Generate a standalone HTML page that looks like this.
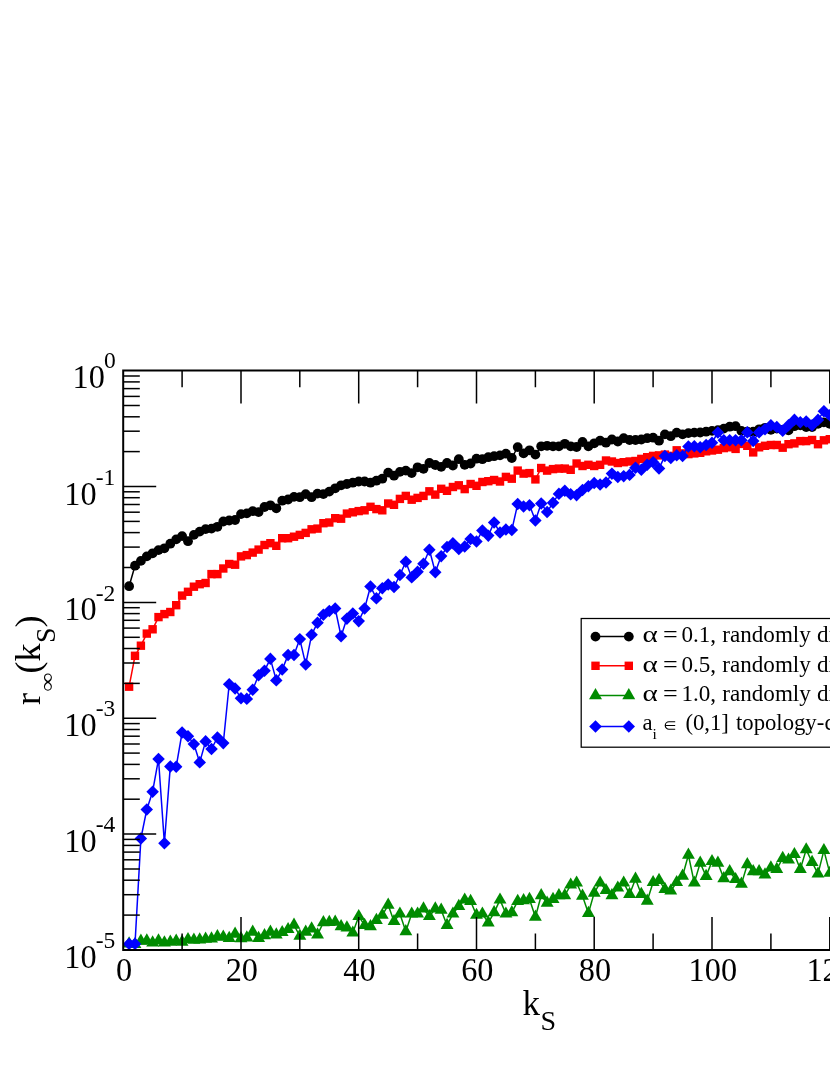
<!DOCTYPE html>
<html><head><meta charset="utf-8"><title>chart</title>
<style>html,body{margin:0;padding:0;background:#fff}body{width:830px;height:1075px;overflow:hidden;font-family:"Liberation Serif",serif}svg{display:block;will-change:transform}</style>
</head><body>
<svg width="830" height="1075" viewBox="0 0 830 1075">
<rect width="830" height="1075" fill="#fff"/>
<polyline points="129.1,586.2 135.0,565.7 140.9,560.9 146.8,556.4 152.6,553.3 158.5,550.1 164.4,548.3 170.3,543.7 176.2,539.4 182.1,536.1 188.0,541.2 193.9,534.9 199.7,531.6 205.6,529.1 211.5,528.6 217.4,526.8 223.3,521.5 229.2,520.5 235.1,520.0 241.0,514.1 246.8,513.4 252.7,511.1 258.6,512.1 264.5,507.0 270.4,505.3 276.3,508.3 282.2,500.7 288.1,499.5 294.0,496.9 299.8,497.2 305.7,494.1 311.6,497.2 317.5,493.6 323.4,494.1 329.3,491.6 335.2,488.3 341.1,485.3 346.9,484.0 352.8,482.7 358.7,481.5 364.6,481.5 370.5,482.7 376.4,480.7 382.3,478.7 388.2,472.6 394.0,475.7 399.9,471.9 405.8,470.6 411.7,473.1 417.6,467.3 423.5,468.8 429.4,463.0 435.3,465.0 441.2,466.8 447.0,463.0 452.9,465.5 458.8,459.2 464.7,464.8 470.6,463.5 476.5,458.7 482.4,459.2 488.3,457.2 494.1,456.2 500.0,455.4 505.9,453.7 511.8,458.0 517.7,447.1 523.6,453.4 529.5,450.3 535.4,454.6 541.2,446.3 547.1,445.8 553.0,446.3 558.9,446.3 564.8,443.8 570.7,446.3 576.6,447.0 582.5,442.0 588.4,446.3 594.2,443.3 600.1,440.7 606.0,442.7 611.9,439.5 617.8,441.5 623.7,438.2 629.6,440.0 635.5,440.0 641.3,439.5 647.2,438.2 653.1,437.7 659.0,440.7 664.9,434.4 670.8,436.2 676.7,432.6 682.6,434.4 688.4,433.1 694.3,432.6 700.2,432.5 706.1,431.7 712.0,430.9 717.9,430.1 723.8,428.6 729.7,426.7 735.6,426.2 741.4,430.9 747.3,431.7 753.2,431.7 759.1,429.3 765.0,427.8 770.9,429.8 776.8,428.6 782.7,429.8 788.5,430.4 794.4,426.2 800.3,425.4 806.2,427.0 812.1,427.0 818.0,423.9 823.9,422.3 829.8,423.9" fill="none" stroke="#000" stroke-width="1.50" stroke-linejoin="round"/>
<g fill="#000">
<circle cx="129.1" cy="586.2" r="4.90"/>
<circle cx="135.0" cy="565.7" r="4.90"/>
<circle cx="140.9" cy="560.9" r="4.90"/>
<circle cx="146.8" cy="556.4" r="4.90"/>
<circle cx="152.6" cy="553.3" r="4.90"/>
<circle cx="158.5" cy="550.1" r="4.90"/>
<circle cx="164.4" cy="548.3" r="4.90"/>
<circle cx="170.3" cy="543.7" r="4.90"/>
<circle cx="176.2" cy="539.4" r="4.90"/>
<circle cx="182.1" cy="536.1" r="4.90"/>
<circle cx="188.0" cy="541.2" r="4.90"/>
<circle cx="193.9" cy="534.9" r="4.90"/>
<circle cx="199.7" cy="531.6" r="4.90"/>
<circle cx="205.6" cy="529.1" r="4.90"/>
<circle cx="211.5" cy="528.6" r="4.90"/>
<circle cx="217.4" cy="526.8" r="4.90"/>
<circle cx="223.3" cy="521.5" r="4.90"/>
<circle cx="229.2" cy="520.5" r="4.90"/>
<circle cx="235.1" cy="520.0" r="4.90"/>
<circle cx="241.0" cy="514.1" r="4.90"/>
<circle cx="246.8" cy="513.4" r="4.90"/>
<circle cx="252.7" cy="511.1" r="4.90"/>
<circle cx="258.6" cy="512.1" r="4.90"/>
<circle cx="264.5" cy="507.0" r="4.90"/>
<circle cx="270.4" cy="505.3" r="4.90"/>
<circle cx="276.3" cy="508.3" r="4.90"/>
<circle cx="282.2" cy="500.7" r="4.90"/>
<circle cx="288.1" cy="499.5" r="4.90"/>
<circle cx="294.0" cy="496.9" r="4.90"/>
<circle cx="299.8" cy="497.2" r="4.90"/>
<circle cx="305.7" cy="494.1" r="4.90"/>
<circle cx="311.6" cy="497.2" r="4.90"/>
<circle cx="317.5" cy="493.6" r="4.90"/>
<circle cx="323.4" cy="494.1" r="4.90"/>
<circle cx="329.3" cy="491.6" r="4.90"/>
<circle cx="335.2" cy="488.3" r="4.90"/>
<circle cx="341.1" cy="485.3" r="4.90"/>
<circle cx="346.9" cy="484.0" r="4.90"/>
<circle cx="352.8" cy="482.7" r="4.90"/>
<circle cx="358.7" cy="481.5" r="4.90"/>
<circle cx="364.6" cy="481.5" r="4.90"/>
<circle cx="370.5" cy="482.7" r="4.90"/>
<circle cx="376.4" cy="480.7" r="4.90"/>
<circle cx="382.3" cy="478.7" r="4.90"/>
<circle cx="388.2" cy="472.6" r="4.90"/>
<circle cx="394.0" cy="475.7" r="4.90"/>
<circle cx="399.9" cy="471.9" r="4.90"/>
<circle cx="405.8" cy="470.6" r="4.90"/>
<circle cx="411.7" cy="473.1" r="4.90"/>
<circle cx="417.6" cy="467.3" r="4.90"/>
<circle cx="423.5" cy="468.8" r="4.90"/>
<circle cx="429.4" cy="463.0" r="4.90"/>
<circle cx="435.3" cy="465.0" r="4.90"/>
<circle cx="441.2" cy="466.8" r="4.90"/>
<circle cx="447.0" cy="463.0" r="4.90"/>
<circle cx="452.9" cy="465.5" r="4.90"/>
<circle cx="458.8" cy="459.2" r="4.90"/>
<circle cx="464.7" cy="464.8" r="4.90"/>
<circle cx="470.6" cy="463.5" r="4.90"/>
<circle cx="476.5" cy="458.7" r="4.90"/>
<circle cx="482.4" cy="459.2" r="4.90"/>
<circle cx="488.3" cy="457.2" r="4.90"/>
<circle cx="494.1" cy="456.2" r="4.90"/>
<circle cx="500.0" cy="455.4" r="4.90"/>
<circle cx="505.9" cy="453.7" r="4.90"/>
<circle cx="511.8" cy="458.0" r="4.90"/>
<circle cx="517.7" cy="447.1" r="4.90"/>
<circle cx="523.6" cy="453.4" r="4.90"/>
<circle cx="529.5" cy="450.3" r="4.90"/>
<circle cx="535.4" cy="454.6" r="4.90"/>
<circle cx="541.2" cy="446.3" r="4.90"/>
<circle cx="547.1" cy="445.8" r="4.90"/>
<circle cx="553.0" cy="446.3" r="4.90"/>
<circle cx="558.9" cy="446.3" r="4.90"/>
<circle cx="564.8" cy="443.8" r="4.90"/>
<circle cx="570.7" cy="446.3" r="4.90"/>
<circle cx="576.6" cy="447.0" r="4.90"/>
<circle cx="582.5" cy="442.0" r="4.90"/>
<circle cx="588.4" cy="446.3" r="4.90"/>
<circle cx="594.2" cy="443.3" r="4.90"/>
<circle cx="600.1" cy="440.7" r="4.90"/>
<circle cx="606.0" cy="442.7" r="4.90"/>
<circle cx="611.9" cy="439.5" r="4.90"/>
<circle cx="617.8" cy="441.5" r="4.90"/>
<circle cx="623.7" cy="438.2" r="4.90"/>
<circle cx="629.6" cy="440.0" r="4.90"/>
<circle cx="635.5" cy="440.0" r="4.90"/>
<circle cx="641.3" cy="439.5" r="4.90"/>
<circle cx="647.2" cy="438.2" r="4.90"/>
<circle cx="653.1" cy="437.7" r="4.90"/>
<circle cx="659.0" cy="440.7" r="4.90"/>
<circle cx="664.9" cy="434.4" r="4.90"/>
<circle cx="670.8" cy="436.2" r="4.90"/>
<circle cx="676.7" cy="432.6" r="4.90"/>
<circle cx="682.6" cy="434.4" r="4.90"/>
<circle cx="688.4" cy="433.1" r="4.90"/>
<circle cx="694.3" cy="432.6" r="4.90"/>
<circle cx="700.2" cy="432.5" r="4.90"/>
<circle cx="706.1" cy="431.7" r="4.90"/>
<circle cx="712.0" cy="430.9" r="4.90"/>
<circle cx="717.9" cy="430.1" r="4.90"/>
<circle cx="723.8" cy="428.6" r="4.90"/>
<circle cx="729.7" cy="426.7" r="4.90"/>
<circle cx="735.6" cy="426.2" r="4.90"/>
<circle cx="741.4" cy="430.9" r="4.90"/>
<circle cx="747.3" cy="431.7" r="4.90"/>
<circle cx="753.2" cy="431.7" r="4.90"/>
<circle cx="759.1" cy="429.3" r="4.90"/>
<circle cx="765.0" cy="427.8" r="4.90"/>
<circle cx="770.9" cy="429.8" r="4.90"/>
<circle cx="776.8" cy="428.6" r="4.90"/>
<circle cx="782.7" cy="429.8" r="4.90"/>
<circle cx="788.5" cy="430.4" r="4.90"/>
<circle cx="794.4" cy="426.2" r="4.90"/>
<circle cx="800.3" cy="425.4" r="4.90"/>
<circle cx="806.2" cy="427.0" r="4.90"/>
<circle cx="812.1" cy="427.0" r="4.90"/>
<circle cx="818.0" cy="423.9" r="4.90"/>
<circle cx="823.9" cy="422.3" r="4.90"/>
<circle cx="829.8" cy="423.9" r="4.90"/>
</g>
<polyline points="129.1,686.7 135.0,655.8 140.9,645.7 146.8,633.6 152.6,629.3 158.5,617.1 164.4,614.1 170.3,612.0 176.2,605.2 182.1,595.6 188.0,591.8 193.9,586.7 199.7,584.2 205.6,583.0 211.5,574.1 217.4,574.1 223.3,568.5 229.2,564.0 235.1,564.7 241.0,556.4 246.8,555.1 252.7,552.6 258.6,549.6 264.5,545.0 270.4,543.2 276.3,545.8 282.2,538.2 288.1,538.2 294.0,536.7 299.8,534.9 305.7,532.9 311.6,529.3 317.5,528.6 323.4,523.2 329.3,522.5 335.2,518.2 341.1,518.7 346.9,513.6 352.8,512.3 358.7,511.1 364.6,510.3 370.5,506.8 376.4,509.1 382.3,510.3 388.2,503.5 394.0,504.8 399.9,498.9 405.8,495.9 411.7,499.7 417.6,497.9 423.5,495.9 429.4,491.3 435.3,494.6 441.2,488.8 447.0,490.8 452.9,487.0 458.8,485.3 464.7,489.1 470.6,484.0 476.5,485.8 482.4,482.0 488.3,481.2 494.1,480.0 500.0,481.5 505.9,476.9 511.8,478.7 517.7,470.6 523.6,473.6 529.5,473.1 535.4,479.4 541.2,468.0 547.1,470.6 553.0,469.1 558.9,468.6 564.8,468.6 570.7,469.8 576.6,463.5 582.5,466.0 588.4,464.8 594.2,466.0 600.1,464.8 606.0,460.5 611.9,461.5 617.8,463.0 623.7,462.2 629.6,461.5 635.5,461.0 641.3,458.9 647.2,457.2 653.1,455.9 659.0,455.4 664.9,454.6 670.8,455.9 676.7,450.3 682.6,453.4 688.4,454.1 694.3,453.4 700.2,452.8 706.1,451.3 712.0,450.5 717.9,449.7 723.8,448.1 729.7,447.3 735.6,448.9 741.4,443.9 747.3,445.8 753.2,452.4 759.1,447.3 765.0,445.8 770.9,445.0 776.8,445.0 782.7,447.7 788.5,444.2 794.4,443.4 800.3,441.1 806.2,441.1 812.1,440.0 818.0,444.2 823.9,440.3 829.8,439.2" fill="none" stroke="#f00" stroke-width="1.50" stroke-linejoin="round"/>
<g fill="#f00">
<rect x="124.9" y="682.5" width="8.4" height="8.4"/>
<rect x="130.8" y="651.6" width="8.4" height="8.4"/>
<rect x="136.7" y="641.5" width="8.4" height="8.4"/>
<rect x="142.6" y="629.4" width="8.4" height="8.4"/>
<rect x="148.4" y="625.1" width="8.4" height="8.4"/>
<rect x="154.3" y="612.9" width="8.4" height="8.4"/>
<rect x="160.2" y="609.9" width="8.4" height="8.4"/>
<rect x="166.1" y="607.8" width="8.4" height="8.4"/>
<rect x="172.0" y="601.0" width="8.4" height="8.4"/>
<rect x="177.9" y="591.4" width="8.4" height="8.4"/>
<rect x="183.8" y="587.6" width="8.4" height="8.4"/>
<rect x="189.7" y="582.5" width="8.4" height="8.4"/>
<rect x="195.5" y="580.0" width="8.4" height="8.4"/>
<rect x="201.4" y="578.8" width="8.4" height="8.4"/>
<rect x="207.3" y="569.9" width="8.4" height="8.4"/>
<rect x="213.2" y="569.9" width="8.4" height="8.4"/>
<rect x="219.1" y="564.3" width="8.4" height="8.4"/>
<rect x="225.0" y="559.8" width="8.4" height="8.4"/>
<rect x="230.9" y="560.5" width="8.4" height="8.4"/>
<rect x="236.8" y="552.2" width="8.4" height="8.4"/>
<rect x="242.6" y="550.9" width="8.4" height="8.4"/>
<rect x="248.5" y="548.4" width="8.4" height="8.4"/>
<rect x="254.4" y="545.4" width="8.4" height="8.4"/>
<rect x="260.3" y="540.8" width="8.4" height="8.4"/>
<rect x="266.2" y="539.0" width="8.4" height="8.4"/>
<rect x="272.1" y="541.6" width="8.4" height="8.4"/>
<rect x="278.0" y="534.0" width="8.4" height="8.4"/>
<rect x="283.9" y="534.0" width="8.4" height="8.4"/>
<rect x="289.8" y="532.5" width="8.4" height="8.4"/>
<rect x="295.6" y="530.7" width="8.4" height="8.4"/>
<rect x="301.5" y="528.7" width="8.4" height="8.4"/>
<rect x="307.4" y="525.1" width="8.4" height="8.4"/>
<rect x="313.3" y="524.4" width="8.4" height="8.4"/>
<rect x="319.2" y="519.0" width="8.4" height="8.4"/>
<rect x="325.1" y="518.3" width="8.4" height="8.4"/>
<rect x="331.0" y="514.0" width="8.4" height="8.4"/>
<rect x="336.9" y="514.5" width="8.4" height="8.4"/>
<rect x="342.7" y="509.4" width="8.4" height="8.4"/>
<rect x="348.6" y="508.1" width="8.4" height="8.4"/>
<rect x="354.5" y="506.9" width="8.4" height="8.4"/>
<rect x="360.4" y="506.1" width="8.4" height="8.4"/>
<rect x="366.3" y="502.6" width="8.4" height="8.4"/>
<rect x="372.2" y="504.9" width="8.4" height="8.4"/>
<rect x="378.1" y="506.1" width="8.4" height="8.4"/>
<rect x="384.0" y="499.3" width="8.4" height="8.4"/>
<rect x="389.8" y="500.6" width="8.4" height="8.4"/>
<rect x="395.7" y="494.7" width="8.4" height="8.4"/>
<rect x="401.6" y="491.7" width="8.4" height="8.4"/>
<rect x="407.5" y="495.5" width="8.4" height="8.4"/>
<rect x="413.4" y="493.7" width="8.4" height="8.4"/>
<rect x="419.3" y="491.7" width="8.4" height="8.4"/>
<rect x="425.2" y="487.1" width="8.4" height="8.4"/>
<rect x="431.1" y="490.4" width="8.4" height="8.4"/>
<rect x="437.0" y="484.6" width="8.4" height="8.4"/>
<rect x="442.8" y="486.6" width="8.4" height="8.4"/>
<rect x="448.7" y="482.8" width="8.4" height="8.4"/>
<rect x="454.6" y="481.1" width="8.4" height="8.4"/>
<rect x="460.5" y="484.9" width="8.4" height="8.4"/>
<rect x="466.4" y="479.8" width="8.4" height="8.4"/>
<rect x="472.3" y="481.6" width="8.4" height="8.4"/>
<rect x="478.2" y="477.8" width="8.4" height="8.4"/>
<rect x="484.1" y="477.0" width="8.4" height="8.4"/>
<rect x="489.9" y="475.8" width="8.4" height="8.4"/>
<rect x="495.8" y="477.3" width="8.4" height="8.4"/>
<rect x="501.7" y="472.7" width="8.4" height="8.4"/>
<rect x="507.6" y="474.5" width="8.4" height="8.4"/>
<rect x="513.5" y="466.4" width="8.4" height="8.4"/>
<rect x="519.4" y="469.4" width="8.4" height="8.4"/>
<rect x="525.3" y="468.9" width="8.4" height="8.4"/>
<rect x="531.2" y="475.2" width="8.4" height="8.4"/>
<rect x="537.0" y="463.8" width="8.4" height="8.4"/>
<rect x="542.9" y="466.4" width="8.4" height="8.4"/>
<rect x="548.8" y="464.9" width="8.4" height="8.4"/>
<rect x="554.7" y="464.4" width="8.4" height="8.4"/>
<rect x="560.6" y="464.4" width="8.4" height="8.4"/>
<rect x="566.5" y="465.6" width="8.4" height="8.4"/>
<rect x="572.4" y="459.3" width="8.4" height="8.4"/>
<rect x="578.3" y="461.8" width="8.4" height="8.4"/>
<rect x="584.2" y="460.6" width="8.4" height="8.4"/>
<rect x="590.0" y="461.8" width="8.4" height="8.4"/>
<rect x="595.9" y="460.6" width="8.4" height="8.4"/>
<rect x="601.8" y="456.3" width="8.4" height="8.4"/>
<rect x="607.7" y="457.3" width="8.4" height="8.4"/>
<rect x="613.6" y="458.8" width="8.4" height="8.4"/>
<rect x="619.5" y="458.0" width="8.4" height="8.4"/>
<rect x="625.4" y="457.3" width="8.4" height="8.4"/>
<rect x="631.3" y="456.8" width="8.4" height="8.4"/>
<rect x="637.1" y="454.7" width="8.4" height="8.4"/>
<rect x="643.0" y="453.0" width="8.4" height="8.4"/>
<rect x="648.9" y="451.7" width="8.4" height="8.4"/>
<rect x="654.8" y="451.2" width="8.4" height="8.4"/>
<rect x="660.7" y="450.4" width="8.4" height="8.4"/>
<rect x="666.6" y="451.7" width="8.4" height="8.4"/>
<rect x="672.5" y="446.1" width="8.4" height="8.4"/>
<rect x="678.4" y="449.2" width="8.4" height="8.4"/>
<rect x="684.2" y="449.9" width="8.4" height="8.4"/>
<rect x="690.1" y="449.2" width="8.4" height="8.4"/>
<rect x="696.0" y="448.6" width="8.4" height="8.4"/>
<rect x="701.9" y="447.1" width="8.4" height="8.4"/>
<rect x="707.8" y="446.3" width="8.4" height="8.4"/>
<rect x="713.7" y="445.5" width="8.4" height="8.4"/>
<rect x="719.6" y="443.9" width="8.4" height="8.4"/>
<rect x="725.5" y="443.1" width="8.4" height="8.4"/>
<rect x="731.4" y="444.7" width="8.4" height="8.4"/>
<rect x="737.2" y="439.7" width="8.4" height="8.4"/>
<rect x="743.1" y="441.6" width="8.4" height="8.4"/>
<rect x="749.0" y="448.2" width="8.4" height="8.4"/>
<rect x="754.9" y="443.1" width="8.4" height="8.4"/>
<rect x="760.8" y="441.6" width="8.4" height="8.4"/>
<rect x="766.7" y="440.8" width="8.4" height="8.4"/>
<rect x="772.6" y="440.8" width="8.4" height="8.4"/>
<rect x="778.5" y="443.5" width="8.4" height="8.4"/>
<rect x="784.3" y="440.0" width="8.4" height="8.4"/>
<rect x="790.2" y="439.2" width="8.4" height="8.4"/>
<rect x="796.1" y="436.9" width="8.4" height="8.4"/>
<rect x="802.0" y="436.9" width="8.4" height="8.4"/>
<rect x="807.9" y="435.8" width="8.4" height="8.4"/>
<rect x="813.8" y="440.0" width="8.4" height="8.4"/>
<rect x="819.7" y="436.1" width="8.4" height="8.4"/>
<rect x="825.6" y="435.0" width="8.4" height="8.4"/>
</g>
<polyline points="129.1,943.6 135.0,944.4 140.9,941.1 146.8,940.6 152.6,942.6 158.5,940.6 164.4,942.6 170.3,942.0 176.2,941.1 182.1,942.0 188.0,939.4 193.9,940.0 199.7,939.8 205.6,939.0 211.5,938.6 217.4,936.5 223.3,937.1 229.2,938.1 235.1,934.0 241.0,938.6 246.8,937.6 252.7,932.0 258.6,938.1 264.5,935.6 270.4,932.0 276.3,934.6 282.2,932.4 288.1,929.4 294.0,925.1 299.8,936.0 305.7,932.0 311.6,928.6 317.5,934.6 323.4,922.5 329.3,922.2 335.2,922.1 341.1,926.5 346.9,927.8 352.8,932.8 358.7,916.4 364.6,925.2 370.5,926.5 376.4,920.2 382.3,915.1 388.2,905.0 394.0,921.4 399.9,913.8 405.8,931.5 411.7,913.8 417.6,913.8 423.5,908.8 429.4,916.4 435.3,908.8 441.2,910.0 447.0,925.2 452.9,913.8 458.8,906.2 464.7,899.9 470.6,901.2 476.5,915.1 482.4,913.8 488.3,922.7 494.1,912.6 500.0,899.9 505.9,913.8 511.8,912.6 517.7,901.2 523.6,900.5 529.5,899.3 535.4,917.0 541.2,895.5 547.1,903.1 553.0,899.3 558.9,895.5 564.8,895.5 570.7,884.8 576.6,882.8 582.5,896.0 588.4,913.2 594.2,892.9 600.1,882.8 606.0,890.4 611.9,895.5 617.8,887.9 623.7,882.8 629.6,894.2 635.5,879.0 641.3,894.2 647.2,901.0 653.1,882.3 659.0,880.3 664.9,889.1 670.8,890.9 676.7,882.3 682.6,876.0 688.4,855.0 694.3,882.8 700.2,862.9 706.1,876.2 712.0,861.4 717.9,862.9 723.8,878.6 729.7,871.5 735.6,879.4 741.4,884.1 747.3,864.5 753.2,871.5 759.1,871.5 765.0,874.7 770.9,867.6 776.8,869.2 782.7,858.2 788.5,859.8 794.4,854.3 800.3,869.2 806.2,849.6 812.1,862.2 818.0,873.9 823.9,850.4 829.8,873.1" fill="none" stroke="#008b00" stroke-width="1.50" stroke-linejoin="round"/>
<g fill="#008b00">
<path d="M122.6 947.4L129.1 936.2L135.5 947.4Z"/>
<path d="M128.5 948.1L135.0 936.9L141.4 948.1Z"/>
<path d="M134.4 944.8L140.9 933.6L147.3 944.8Z"/>
<path d="M140.3 944.4L146.8 933.2L153.2 944.4Z"/>
<path d="M146.2 946.4L152.6 935.2L159.1 946.4Z"/>
<path d="M152.1 944.4L158.5 933.2L165.0 944.4Z"/>
<path d="M158.0 946.4L164.4 935.2L170.9 946.4Z"/>
<path d="M163.9 945.7L170.3 934.5L176.8 945.7Z"/>
<path d="M169.7 944.8L176.2 933.6L182.6 944.8Z"/>
<path d="M175.6 945.7L182.1 934.5L188.5 945.7Z"/>
<path d="M181.5 943.1L188.0 931.9L194.4 943.1Z"/>
<path d="M187.4 943.7L193.9 932.5L200.3 943.7Z"/>
<path d="M193.3 943.5L199.7 932.3L206.2 943.5Z"/>
<path d="M199.2 942.7L205.6 931.5L212.1 942.7Z"/>
<path d="M205.1 942.4L211.5 931.2L218.0 942.4Z"/>
<path d="M211.0 940.2L217.4 929.0L223.9 940.2Z"/>
<path d="M216.8 940.8L223.3 929.6L229.7 940.8Z"/>
<path d="M222.7 941.9L229.2 930.7L235.6 941.9Z"/>
<path d="M228.6 937.7L235.1 926.5L241.5 937.7Z"/>
<path d="M234.5 942.3L241.0 931.1L247.4 942.3Z"/>
<path d="M240.4 941.4L246.8 930.2L253.3 941.4Z"/>
<path d="M246.3 935.7L252.7 924.5L259.2 935.7Z"/>
<path d="M252.2 941.9L258.6 930.7L265.1 941.9Z"/>
<path d="M258.1 939.3L264.5 928.1L271.0 939.3Z"/>
<path d="M263.9 935.7L270.4 924.5L276.8 935.7Z"/>
<path d="M269.8 938.4L276.3 927.2L282.7 938.4Z"/>
<path d="M275.7 936.1L282.2 924.9L288.6 936.1Z"/>
<path d="M281.6 933.1L288.1 921.9L294.5 933.1Z"/>
<path d="M287.5 928.8L294.0 917.6L300.4 928.8Z"/>
<path d="M293.4 939.7L299.8 928.5L306.3 939.7Z"/>
<path d="M299.3 935.7L305.7 924.5L312.2 935.7Z"/>
<path d="M305.2 932.4L311.6 921.2L318.1 932.4Z"/>
<path d="M311.1 938.4L317.5 927.2L324.0 938.4Z"/>
<path d="M316.9 926.2L323.4 915.0L329.8 926.2Z"/>
<path d="M322.8 926.0L329.3 914.8L335.7 926.0Z"/>
<path d="M328.7 925.8L335.2 914.6L341.6 925.8Z"/>
<path d="M334.6 930.2L341.1 919.0L347.5 930.2Z"/>
<path d="M340.5 931.5L346.9 920.3L353.4 931.5Z"/>
<path d="M346.4 936.5L352.8 925.4L359.3 936.5Z"/>
<path d="M352.3 920.1L358.7 908.9L365.2 920.1Z"/>
<path d="M358.2 928.9L364.6 917.8L371.1 928.9Z"/>
<path d="M364.0 930.2L370.5 919.0L376.9 930.2Z"/>
<path d="M369.9 923.9L376.4 912.7L382.8 923.9Z"/>
<path d="M375.8 918.8L382.3 907.7L388.7 918.8Z"/>
<path d="M381.7 908.7L388.2 897.5L394.6 908.7Z"/>
<path d="M387.6 925.1L394.0 914.0L400.5 925.1Z"/>
<path d="M393.5 917.6L399.9 906.4L406.4 917.6Z"/>
<path d="M399.4 935.3L405.8 924.1L412.3 935.3Z"/>
<path d="M405.3 917.6L411.7 906.4L418.2 917.6Z"/>
<path d="M411.1 917.6L417.6 906.4L424.0 917.6Z"/>
<path d="M417.0 912.5L423.5 901.3L429.9 912.5Z"/>
<path d="M422.9 920.1L429.4 908.9L435.8 920.1Z"/>
<path d="M428.8 912.5L435.3 901.3L441.7 912.5Z"/>
<path d="M434.7 913.8L441.2 902.6L447.6 913.8Z"/>
<path d="M440.6 928.9L447.0 917.8L453.5 928.9Z"/>
<path d="M446.5 917.6L452.9 906.4L459.4 917.6Z"/>
<path d="M452.4 910.0L458.8 898.8L465.3 910.0Z"/>
<path d="M458.3 903.6L464.7 892.5L471.2 903.6Z"/>
<path d="M464.1 904.9L470.6 893.7L477.0 904.9Z"/>
<path d="M470.0 918.8L476.5 907.7L482.9 918.8Z"/>
<path d="M475.9 917.6L482.4 906.4L488.8 917.6Z"/>
<path d="M481.8 926.4L488.3 915.2L494.7 926.4Z"/>
<path d="M487.7 916.3L494.1 905.1L500.6 916.3Z"/>
<path d="M493.6 903.6L500.0 892.5L506.5 903.6Z"/>
<path d="M499.5 917.6L505.9 906.4L512.4 917.6Z"/>
<path d="M505.4 916.3L511.8 905.1L518.3 916.3Z"/>
<path d="M511.2 904.9L517.7 893.7L524.1 904.9Z"/>
<path d="M517.1 904.2L523.6 893.1L530.0 904.2Z"/>
<path d="M523.0 903.0L529.5 891.8L535.9 903.0Z"/>
<path d="M528.9 920.7L535.4 909.5L541.8 920.7Z"/>
<path d="M534.8 899.2L541.2 888.0L547.7 899.2Z"/>
<path d="M540.7 906.8L547.1 895.6L553.6 906.8Z"/>
<path d="M546.6 903.0L553.0 891.8L559.5 903.0Z"/>
<path d="M552.5 899.2L558.9 888.0L565.4 899.2Z"/>
<path d="M558.3 899.2L564.8 888.0L571.2 899.2Z"/>
<path d="M564.2 888.6L570.7 877.4L577.1 888.6Z"/>
<path d="M570.1 886.5L576.6 875.4L583.0 886.5Z"/>
<path d="M576.0 899.7L582.5 888.5L588.9 899.7Z"/>
<path d="M581.9 916.9L588.4 905.7L594.8 916.9Z"/>
<path d="M587.8 896.7L594.2 885.5L600.7 896.7Z"/>
<path d="M593.7 886.5L600.1 875.4L606.6 886.5Z"/>
<path d="M599.6 894.1L606.0 883.0L612.5 894.1Z"/>
<path d="M605.5 899.2L611.9 888.0L618.4 899.2Z"/>
<path d="M611.3 891.6L617.8 880.4L624.2 891.6Z"/>
<path d="M617.2 886.5L623.7 875.4L630.1 886.5Z"/>
<path d="M623.1 897.9L629.6 886.7L636.0 897.9Z"/>
<path d="M629.0 882.7L635.5 871.6L641.9 882.7Z"/>
<path d="M634.9 897.9L641.3 886.7L647.8 897.9Z"/>
<path d="M640.8 904.8L647.2 893.6L653.7 904.8Z"/>
<path d="M646.7 886.0L653.1 874.9L659.6 886.0Z"/>
<path d="M652.6 884.0L659.0 872.8L665.5 884.0Z"/>
<path d="M658.4 892.9L664.9 881.7L671.3 892.9Z"/>
<path d="M664.3 894.6L670.8 883.5L677.2 894.6Z"/>
<path d="M670.2 886.0L676.7 874.9L683.1 886.0Z"/>
<path d="M676.1 879.7L682.6 868.5L689.0 879.7Z"/>
<path d="M682.0 858.7L688.4 847.5L694.9 858.7Z"/>
<path d="M687.9 886.5L694.3 875.4L700.8 886.5Z"/>
<path d="M693.8 866.7L700.2 855.5L706.7 866.7Z"/>
<path d="M699.7 880.0L706.1 868.8L712.6 880.0Z"/>
<path d="M705.5 865.1L712.0 853.9L718.5 865.1Z"/>
<path d="M711.4 866.7L717.9 855.5L724.3 866.7Z"/>
<path d="M717.3 882.3L723.8 871.1L730.2 882.3Z"/>
<path d="M723.2 875.3L729.7 864.1L736.1 875.3Z"/>
<path d="M729.1 883.1L735.6 871.9L742.0 883.1Z"/>
<path d="M735.0 887.8L741.4 876.6L747.9 887.8Z"/>
<path d="M740.9 868.2L747.3 857.1L753.8 868.2Z"/>
<path d="M746.8 875.3L753.2 864.1L759.7 875.3Z"/>
<path d="M752.7 875.3L759.1 864.1L765.6 875.3Z"/>
<path d="M758.5 878.4L765.0 867.2L771.4 878.4Z"/>
<path d="M764.4 871.4L770.9 860.2L777.3 871.4Z"/>
<path d="M770.3 872.9L776.8 861.7L783.2 872.9Z"/>
<path d="M776.2 862.0L782.7 850.8L789.1 862.0Z"/>
<path d="M782.1 863.5L788.5 852.4L795.0 863.5Z"/>
<path d="M788.0 858.0L794.4 846.9L800.9 858.0Z"/>
<path d="M793.9 872.9L800.3 861.7L806.8 872.9Z"/>
<path d="M799.8 853.3L806.2 842.2L812.7 853.3Z"/>
<path d="M805.6 865.9L812.1 854.7L818.5 865.9Z"/>
<path d="M811.5 877.6L818.0 866.4L824.4 877.6Z"/>
<path d="M817.4 854.1L823.9 843.0L830.3 854.1Z"/>
<path d="M823.3 876.8L829.8 865.7L836.2 876.8Z"/>
</g>
<polyline points="129.1,943.9 135.0,943.9 140.9,838.5 146.8,809.4 152.6,791.7 158.5,759.1 164.4,843.3 170.3,766.4 176.2,766.7 182.1,732.5 188.0,736.3 193.9,744.1 199.7,762.4 205.6,741.4 211.5,749.0 217.4,737.6 223.3,743.1 229.2,684.3 235.1,688.5 241.0,698.3 246.8,698.9 252.7,689.8 258.6,675.3 264.5,670.7 270.4,658.9 276.3,680.4 282.2,669.5 288.1,655.1 294.0,655.1 299.8,639.1 305.7,664.4 311.6,634.8 317.5,622.7 323.4,614.8 329.3,611.0 335.2,608.5 341.1,636.3 346.9,618.6 352.8,613.6 358.7,621.1 364.6,608.5 370.5,586.5 376.4,598.4 382.3,588.3 388.2,584.5 394.0,587.0 399.9,575.1 405.8,561.8 411.7,577.4 417.6,571.8 423.5,563.7 429.4,549.8 435.3,572.3 441.2,556.1 447.0,547.0 452.9,543.2 458.8,549.0 464.7,546.5 470.6,538.9 476.5,541.4 482.4,530.6 488.3,535.6 494.1,522.5 500.0,532.6 505.9,529.6 511.8,530.1 517.7,504.0 523.6,506.5 529.5,505.2 535.4,520.4 541.2,503.5 547.1,512.1 553.0,502.7 558.9,493.9 564.8,490.8 570.7,494.4 576.6,495.1 582.5,490.1 588.4,486.3 594.2,483.0 600.1,484.5 606.0,482.5 611.9,473.6 617.8,476.9 623.7,476.1 629.6,474.9 635.5,467.8 641.3,469.8 647.2,464.8 653.1,462.2 659.0,468.6 664.9,455.9 670.8,457.9 676.7,455.4 682.6,455.9 688.4,446.5 694.3,446.3 700.2,447.3 706.1,445.0 712.0,442.7 717.9,432.5 723.8,440.3 729.7,440.3 735.6,440.3 741.4,440.3 747.3,432.4 753.2,441.0 759.1,432.4 765.0,429.3 770.9,425.3 776.8,426.9 782.7,430.8 788.5,425.3 794.4,419.9 800.3,422.2 806.2,421.4 812.1,425.3 818.0,419.9 823.9,411.2 829.8,415.2" fill="none" stroke="#00f" stroke-width="1.50" stroke-linejoin="round"/>
<g fill="#00f">
<path d="M122.8 943.9L129.1 937.6L135.3 943.9L129.1 950.1Z"/>
<path d="M128.7 943.9L135.0 937.6L141.2 943.9L135.0 950.1Z"/>
<path d="M134.6 838.5L140.9 832.3L147.1 838.5L140.9 844.8Z"/>
<path d="M140.5 809.4L146.8 803.2L153.0 809.4L146.8 815.7Z"/>
<path d="M146.4 791.7L152.6 785.5L158.9 791.7L152.6 798.0Z"/>
<path d="M152.3 759.1L158.5 752.8L164.8 759.1L158.5 765.3Z"/>
<path d="M158.2 843.3L164.4 837.1L170.7 843.3L164.4 849.6Z"/>
<path d="M164.1 766.4L170.3 760.2L176.6 766.4L170.3 772.7Z"/>
<path d="M169.9 766.7L176.2 760.4L182.4 766.7L176.2 772.9Z"/>
<path d="M175.8 732.5L182.1 726.3L188.3 732.5L182.1 738.8Z"/>
<path d="M181.7 736.3L188.0 730.1L194.2 736.3L188.0 742.6Z"/>
<path d="M187.6 744.1L193.9 737.9L200.1 744.1L193.9 750.4Z"/>
<path d="M193.5 762.4L199.7 756.1L206.0 762.4L199.7 768.6Z"/>
<path d="M199.4 741.4L205.6 735.1L211.9 741.4L205.6 747.6Z"/>
<path d="M205.3 749.0L211.5 742.7L217.8 749.0L211.5 755.2Z"/>
<path d="M211.2 737.6L217.4 731.3L223.7 737.6L217.4 743.8Z"/>
<path d="M217.0 743.1L223.3 736.9L229.5 743.1L223.3 749.4Z"/>
<path d="M222.9 684.3L229.2 678.0L235.4 684.3L229.2 690.5Z"/>
<path d="M228.8 688.5L235.1 682.2L241.3 688.5L235.1 694.7Z"/>
<path d="M234.7 698.3L241.0 692.1L247.2 698.3L241.0 704.6Z"/>
<path d="M240.6 698.9L246.8 692.6L253.1 698.9L246.8 705.1Z"/>
<path d="M246.5 689.8L252.7 683.5L259.0 689.8L252.7 696.0Z"/>
<path d="M252.4 675.3L258.6 669.1L264.9 675.3L258.6 681.6Z"/>
<path d="M258.3 670.7L264.5 664.5L270.8 670.7L264.5 677.0Z"/>
<path d="M264.1 658.9L270.4 652.6L276.6 658.9L270.4 665.1Z"/>
<path d="M270.0 680.4L276.3 674.1L282.5 680.4L276.3 686.6Z"/>
<path d="M275.9 669.5L282.2 663.2L288.4 669.5L282.2 675.7Z"/>
<path d="M281.8 655.1L288.1 648.8L294.3 655.1L288.1 661.3Z"/>
<path d="M287.7 655.1L294.0 648.8L300.2 655.1L294.0 661.3Z"/>
<path d="M293.6 639.1L299.8 632.9L306.1 639.1L299.8 645.4Z"/>
<path d="M299.5 664.4L305.7 658.2L312.0 664.4L305.7 670.7Z"/>
<path d="M305.4 634.8L311.6 628.6L317.9 634.8L311.6 641.1Z"/>
<path d="M311.3 622.7L317.5 616.4L323.8 622.7L317.5 628.9Z"/>
<path d="M317.1 614.8L323.4 608.6L329.6 614.8L323.4 621.1Z"/>
<path d="M323.0 611.0L329.3 604.8L335.5 611.0L329.3 617.3Z"/>
<path d="M328.9 608.5L335.2 602.2L341.4 608.5L335.2 614.7Z"/>
<path d="M334.8 636.3L341.1 630.1L347.3 636.3L341.1 642.6Z"/>
<path d="M340.7 618.6L346.9 612.4L353.2 618.6L346.9 624.9Z"/>
<path d="M346.6 613.6L352.8 607.3L359.1 613.6L352.8 619.8Z"/>
<path d="M352.5 621.1L358.7 614.9L365.0 621.1L358.7 627.4Z"/>
<path d="M358.4 608.5L364.6 602.2L370.9 608.5L364.6 614.7Z"/>
<path d="M364.2 586.5L370.5 580.2L376.7 586.5L370.5 592.7Z"/>
<path d="M370.1 598.4L376.4 592.1L382.6 598.4L376.4 604.6Z"/>
<path d="M376.0 588.3L382.3 582.0L388.5 588.3L382.3 594.5Z"/>
<path d="M381.9 584.5L388.2 578.2L394.4 584.5L388.2 590.7Z"/>
<path d="M387.8 587.0L394.0 580.7L400.3 587.0L394.0 593.2Z"/>
<path d="M393.7 575.1L399.9 568.8L406.2 575.1L399.9 581.3Z"/>
<path d="M399.6 561.8L405.8 555.6L412.1 561.8L405.8 568.1Z"/>
<path d="M405.5 577.4L411.7 571.1L418.0 577.4L411.7 583.6Z"/>
<path d="M411.3 571.8L417.6 565.6L423.8 571.8L417.6 578.1Z"/>
<path d="M417.2 563.7L423.5 557.5L429.7 563.7L423.5 570.0Z"/>
<path d="M423.1 549.8L429.4 543.5L435.6 549.8L429.4 556.0Z"/>
<path d="M429.0 572.3L435.3 566.1L441.5 572.3L435.3 578.6Z"/>
<path d="M434.9 556.1L441.2 549.9L447.4 556.1L441.2 562.4Z"/>
<path d="M440.8 547.0L447.0 540.8L453.3 547.0L447.0 553.3Z"/>
<path d="M446.7 543.2L452.9 537.0L459.2 543.2L452.9 549.5Z"/>
<path d="M452.6 549.0L458.8 542.8L465.1 549.0L458.8 555.3Z"/>
<path d="M458.5 546.5L464.7 540.3L471.0 546.5L464.7 552.8Z"/>
<path d="M464.3 538.9L470.6 532.7L476.8 538.9L470.6 545.2Z"/>
<path d="M470.2 541.4L476.5 535.2L482.7 541.4L476.5 547.7Z"/>
<path d="M476.1 530.6L482.4 524.3L488.6 530.6L482.4 536.8Z"/>
<path d="M482.0 535.6L488.3 529.4L494.5 535.6L488.3 541.9Z"/>
<path d="M487.9 522.5L494.1 516.2L500.4 522.5L494.1 528.7Z"/>
<path d="M493.8 532.6L500.0 526.3L506.3 532.6L500.0 538.8Z"/>
<path d="M499.7 529.6L505.9 523.3L512.2 529.6L505.9 535.8Z"/>
<path d="M505.6 530.1L511.8 523.8L518.1 530.1L511.8 536.3Z"/>
<path d="M511.4 504.0L517.7 497.8L523.9 504.0L517.7 510.2Z"/>
<path d="M517.3 506.5L523.6 500.3L529.8 506.5L523.6 512.8Z"/>
<path d="M523.2 505.2L529.5 499.0L535.7 505.2L529.5 511.5Z"/>
<path d="M529.1 520.4L535.4 514.2L541.6 520.4L535.4 526.7Z"/>
<path d="M535.0 503.5L541.2 497.2L547.5 503.5L541.2 509.7Z"/>
<path d="M540.9 512.1L547.1 505.8L553.4 512.1L547.1 518.3Z"/>
<path d="M546.8 502.7L553.0 496.5L559.3 502.7L553.0 509.0Z"/>
<path d="M552.7 493.9L558.9 487.6L565.2 493.9L558.9 500.1Z"/>
<path d="M558.5 490.8L564.8 484.6L571.0 490.8L564.8 497.1Z"/>
<path d="M564.4 494.4L570.7 488.1L576.9 494.4L570.7 500.6Z"/>
<path d="M570.3 495.1L576.6 488.9L582.8 495.1L576.6 501.4Z"/>
<path d="M576.2 490.1L582.5 483.8L588.7 490.1L582.5 496.3Z"/>
<path d="M582.1 486.3L588.4 480.0L594.6 486.3L588.4 492.5Z"/>
<path d="M588.0 483.0L594.2 476.7L600.5 483.0L594.2 489.2Z"/>
<path d="M593.9 484.5L600.1 478.2L606.4 484.5L600.1 490.7Z"/>
<path d="M599.8 482.5L606.0 476.2L612.3 482.5L606.0 488.7Z"/>
<path d="M605.7 473.6L611.9 467.4L618.2 473.6L611.9 479.9Z"/>
<path d="M611.5 476.9L617.8 470.7L624.0 476.9L617.8 483.2Z"/>
<path d="M617.4 476.1L623.7 469.9L629.9 476.1L623.7 482.4Z"/>
<path d="M623.3 474.9L629.6 468.6L635.8 474.9L629.6 481.1Z"/>
<path d="M629.2 467.8L635.5 461.5L641.7 467.8L635.5 474.0Z"/>
<path d="M635.1 469.8L641.3 463.6L647.6 469.8L641.3 476.1Z"/>
<path d="M641.0 464.8L647.2 458.5L653.5 464.8L647.2 471.0Z"/>
<path d="M646.9 462.2L653.1 456.0L659.4 462.2L653.1 468.5Z"/>
<path d="M652.8 468.6L659.0 462.3L665.3 468.6L659.0 474.8Z"/>
<path d="M658.6 455.9L664.9 449.7L671.1 455.9L664.9 462.2Z"/>
<path d="M664.5 457.9L670.8 451.7L677.0 457.9L670.8 464.2Z"/>
<path d="M670.4 455.4L676.7 449.1L682.9 455.4L676.7 461.6Z"/>
<path d="M676.3 455.9L682.6 449.7L688.8 455.9L682.6 462.2Z"/>
<path d="M682.2 446.5L688.4 440.3L694.7 446.5L688.4 452.8Z"/>
<path d="M688.1 446.3L694.3 440.0L700.6 446.3L694.3 452.5Z"/>
<path d="M694.0 447.3L700.2 441.1L706.5 447.3L700.2 453.6Z"/>
<path d="M699.9 445.0L706.1 438.8L712.4 445.0L706.1 451.2Z"/>
<path d="M705.8 442.7L712.0 436.4L718.2 442.7L712.0 448.9Z"/>
<path d="M711.6 432.5L717.9 426.2L724.1 432.5L717.9 438.7Z"/>
<path d="M717.5 440.3L723.8 434.1L730.0 440.3L723.8 446.6Z"/>
<path d="M723.4 440.3L729.7 434.1L735.9 440.3L729.7 446.6Z"/>
<path d="M729.3 440.3L735.6 434.1L741.8 440.3L735.6 446.6Z"/>
<path d="M735.2 440.3L741.4 434.1L747.7 440.3L741.4 446.6Z"/>
<path d="M741.1 432.4L747.3 426.1L753.6 432.4L747.3 438.6Z"/>
<path d="M747.0 441.0L753.2 434.8L759.5 441.0L753.2 447.3Z"/>
<path d="M752.9 432.4L759.1 426.1L765.4 432.4L759.1 438.6Z"/>
<path d="M758.7 429.3L765.0 423.0L771.2 429.3L765.0 435.5Z"/>
<path d="M764.6 425.3L770.9 419.1L777.1 425.3L770.9 431.6Z"/>
<path d="M770.5 426.9L776.8 420.7L783.0 426.9L776.8 433.2Z"/>
<path d="M776.4 430.8L782.7 424.6L788.9 430.8L782.7 437.1Z"/>
<path d="M782.3 425.3L788.5 419.1L794.8 425.3L788.5 431.6Z"/>
<path d="M788.2 419.9L794.4 413.6L800.7 419.9L794.4 426.1Z"/>
<path d="M794.1 422.2L800.3 416.0L806.6 422.2L800.3 428.5Z"/>
<path d="M800.0 421.4L806.2 415.2L812.5 421.4L806.2 427.7Z"/>
<path d="M805.8 425.3L812.1 419.1L818.3 425.3L812.1 431.6Z"/>
<path d="M811.7 419.9L818.0 413.6L824.2 419.9L818.0 426.1Z"/>
<path d="M817.6 411.2L823.9 405.0L830.1 411.2L823.9 417.5Z"/>
<path d="M823.5 415.2L829.8 408.9L836.0 415.2L829.8 421.4Z"/>
</g>
<g stroke="#000" stroke-width="1.50" fill="none">
<path d="M182.1 370.6v16.6 M182.1 950.0v-16.6"/>
<path d="M241.0 370.6v33.0 M241.0 950.0v-33.0"/>
<path d="M299.8 370.6v16.6 M299.8 950.0v-16.6"/>
<path d="M358.7 370.6v33.0 M358.7 950.0v-33.0"/>
<path d="M417.6 370.6v16.6 M417.6 950.0v-16.6"/>
<path d="M476.5 370.6v33.0 M476.5 950.0v-33.0"/>
<path d="M535.4 370.6v16.6 M535.4 950.0v-16.6"/>
<path d="M594.2 370.6v33.0 M594.2 950.0v-33.0"/>
<path d="M653.1 370.6v16.6 M653.1 950.0v-16.6"/>
<path d="M712.0 370.6v33.0 M712.0 950.0v-33.0"/>
<path d="M770.9 370.6v16.6 M770.9 950.0v-16.6"/>
<path d="M829.8 370.6v33.0 M829.8 950.0v-33.0"/>
<path d="M123.2 451.6h16.6"/>
<path d="M123.2 431.2h16.6"/>
<path d="M123.2 416.8h16.6"/>
<path d="M123.2 405.5h16.6"/>
<path d="M123.2 396.4h16.6"/>
<path d="M123.2 388.6h16.6"/>
<path d="M123.2 381.9h16.6"/>
<path d="M123.2 376.0h16.6"/>
<path d="M123.2 486.5h33.0"/>
<path d="M123.2 567.5h16.6"/>
<path d="M123.2 547.1h16.6"/>
<path d="M123.2 532.6h16.6"/>
<path d="M123.2 521.4h16.6"/>
<path d="M123.2 512.2h16.6"/>
<path d="M123.2 504.5h16.6"/>
<path d="M123.2 497.7h16.6"/>
<path d="M123.2 491.8h16.6"/>
<path d="M123.2 602.4h33.0"/>
<path d="M123.2 683.4h16.6"/>
<path d="M123.2 663.0h16.6"/>
<path d="M123.2 648.5h16.6"/>
<path d="M123.2 637.3h16.6"/>
<path d="M123.2 628.1h16.6"/>
<path d="M123.2 620.3h16.6"/>
<path d="M123.2 613.6h16.6"/>
<path d="M123.2 607.7h16.6"/>
<path d="M123.2 718.3h33.0"/>
<path d="M123.2 799.2h16.6"/>
<path d="M123.2 778.8h16.6"/>
<path d="M123.2 764.4h16.6"/>
<path d="M123.2 753.1h16.6"/>
<path d="M123.2 744.0h16.6"/>
<path d="M123.2 736.2h16.6"/>
<path d="M123.2 729.5h16.6"/>
<path d="M123.2 723.6h16.6"/>
<path d="M123.2 834.1h33.0"/>
<path d="M123.2 915.1h16.6"/>
<path d="M123.2 894.7h16.6"/>
<path d="M123.2 880.2h16.6"/>
<path d="M123.2 869.0h16.6"/>
<path d="M123.2 859.8h16.6"/>
<path d="M123.2 852.1h16.6"/>
<path d="M123.2 845.4h16.6"/>
<path d="M123.2 839.4h16.6"/>
</g>
<path d="M835 370.6H123.2V950.0H835" fill="none" stroke="#000" stroke-width="2.00" stroke-linejoin="miter"/>
<g font-family="Liberation Serif, serif" fill="#000">
<text transform="translate(124.0,980.5) scale(0.95,1)" font-size="34.0" text-anchor="middle">0</text>
<text transform="translate(241.8,980.5) scale(0.95,1)" font-size="34.0" text-anchor="middle">20</text>
<text transform="translate(359.5,980.5) scale(0.95,1)" font-size="34.0" text-anchor="middle">40</text>
<text transform="translate(477.3,980.5) scale(0.95,1)" font-size="34.0" text-anchor="middle">60</text>
<text transform="translate(595.0,980.5) scale(0.95,1)" font-size="34.0" text-anchor="middle">80</text>
<text transform="translate(712.8,980.5) scale(0.95,1)" font-size="34.0" text-anchor="middle">100</text>
<text transform="translate(830.6,980.5) scale(0.95,1)" font-size="34.0" text-anchor="middle">120</text>
<text transform="translate(104.8,387.9) scale(0.95,1)" font-size="34.0" text-anchor="end">10</text>
<text x="104.0" y="368.1" font-size="23.5" text-anchor="start">0</text>
<text transform="translate(96.6,504.5) scale(0.95,1)" font-size="34.0" text-anchor="end">10</text>
<text x="95.8" y="484.6" font-size="23.5" text-anchor="start">-1</text>
<text transform="translate(96.6,620.4) scale(0.95,1)" font-size="34.0" text-anchor="end">10</text>
<text x="95.8" y="600.5" font-size="23.5" text-anchor="start">-2</text>
<text transform="translate(96.6,736.3) scale(0.95,1)" font-size="34.0" text-anchor="end">10</text>
<text x="95.8" y="716.4" font-size="23.5" text-anchor="start">-3</text>
<text transform="translate(96.6,852.1) scale(0.95,1)" font-size="34.0" text-anchor="end">10</text>
<text x="95.8" y="832.2" font-size="23.5" text-anchor="start">-4</text>
<text transform="translate(96.6,968.0) scale(0.95,1)" font-size="34.0" text-anchor="end">10</text>
<text x="95.8" y="948.1" font-size="23.5" text-anchor="start">-5</text>
<text x="522.5" y="1014.7" font-size="35">k</text>
<text x="540.5" y="1030.2" font-size="28">S</text>
<g transform="translate(40.2,706) rotate(-90)">
<text x="1.0" y="0" font-size="36">r</text>
<text transform="translate(13.9,13.7) scale(1.31,1)" font-size="21">∞</text>
<text x="32.6" y="0" font-size="36">(k</text>
<text x="62.9" y="14.8" font-size="28">S</text>
<text x="78.5" y="0" font-size="36">)</text>
</g>
</g>
<rect x="581.2" y="618.5" width="258.8" height="128.7" fill="#fff" stroke="#000" stroke-width="1.25"/>
<g font-family="Liberation Serif, serif" fill="#000" font-size="23.1">
<path d="M595.5 636.6H628.8" stroke="#000" stroke-width="1.5"/>
<g fill="#000"><circle cx="595.5" cy="636.6" r="4.90"/><circle cx="628.8" cy="636.6" r="4.90"/></g>
<text transform="translate(642.4,642.1) scale(1.26,1)">α</text>
<text transform="translate(662.9,642.1) scale(1.13,1)">=</text>
<text x="681.5" y="642.1">0.1,</text>
<text x="722.3" y="642.1">randomly</text>
<text x="816.9" y="642.1">distributed</text>
<path d="M595.5 665.8H628.8" stroke="#f00" stroke-width="1.5"/>
<g fill="#f00"><rect x="591.3" y="661.6" width="8.4" height="8.4"/><rect x="624.6" y="661.6" width="8.4" height="8.4"/></g>
<text transform="translate(642.4,671.6) scale(1.26,1)">α</text>
<text transform="translate(662.9,671.6) scale(1.13,1)">=</text>
<text x="681.5" y="671.6">0.5,</text>
<text x="722.3" y="671.6">randomly</text>
<text x="816.9" y="671.6">distributed</text>
<path d="M595.5 695.5H628.8" stroke="#008b00" stroke-width="1.5"/>
<g fill="#008b00"><path d="M589.0 699.2L595.5 688.0L602.0 699.2Z"/><path d="M622.3 699.2L628.8 688.0L635.2 699.2Z"/></g>
<text transform="translate(642.4,700.6) scale(1.26,1)">α</text>
<text transform="translate(662.9,700.6) scale(1.13,1)">=</text>
<text x="681.5" y="700.6">1.0,</text>
<text x="722.3" y="700.6">randomly</text>
<text x="816.9" y="700.6">distributed</text>
<path d="M595.5 726.5H628.8" stroke="#00f" stroke-width="1.5"/>
<g fill="#00f"><path d="M589.2 726.5L595.5 720.2L601.8 726.5L595.5 732.8Z"/><path d="M622.5 726.5L628.8 720.2L635.0 726.5L628.8 732.8Z"/></g>
<g font-size="22.7">
<text x="642.4" y="729.8">a</text>
<text x="652.6" y="739.0" font-size="15.5">i</text>
<text x="685.4" y="729.8">(0,1]</text>
<text x="736.0" y="729.8">topology-</text>
<text x="824.6" y="729.8">correlated</text>
</g></g>
<path d="M675.2 721.7H669a3.75 3.75 0 0 0 0 7.5H675.2M665.2 725.45H675.2" fill="none" stroke="#000" stroke-width="1.15"/>
</svg>
</body></html>
